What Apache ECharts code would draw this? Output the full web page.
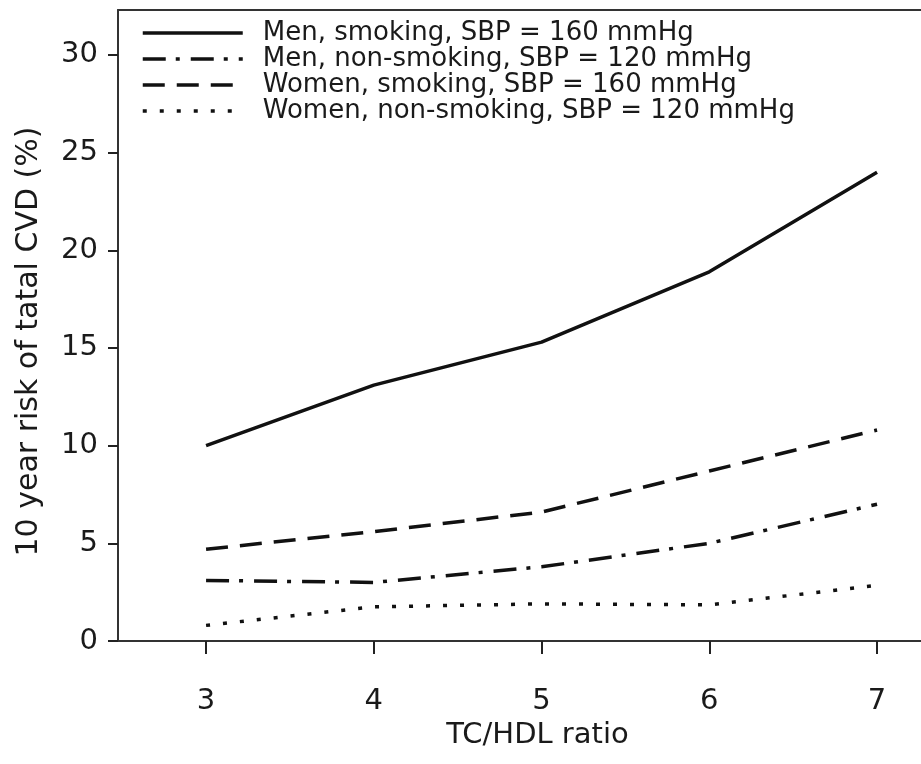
<!DOCTYPE html>
<html>
<head>
<meta charset="utf-8">
<title>10 year risk of tatal CVD</title>
<script src="https://cdn.jsdelivr.net/npm/echarts@6/dist/echarts.min.js"></script>
<style>
  html, body { margin: 0; padding: 0; background: #fff; }
  #main { width: 921px; height: 764px; }
</style>
</head>
<body>
<div id="main"></div>
<script>
// TC/HDL ratio on x, risk % on y
var ratios = [3, 4, 5, 6, 7];
var yTicks = [0, 5, 10, 15, 20, 25, 30];

var menSmoking      = [10.0, 13.1, 15.3, 18.9, 24.0];
var menNonSmoking   = [3.1, 3.0, 3.8, 5.0, 7.0];
var womenSmoking    = [4.7, 5.6, 6.6, 8.7, 10.8];
var womenNonSmoking = [0.8, 1.75, 1.9, 1.85, 2.85];

var seriesNames = [
	'Men, smoking, SBP = 160 mmHg',
	'Men, non-smoking, SBP = 120 mmHg',
	'Women, smoking, SBP = 160 mmHg',
	'Women, non-smoking, SBP = 120 mmHg'
];

function pairs(arr){
	return ratios.map(function(x, i){ return [x, arr[i]]; });
}

var font = 'DejaVu Sans';
var ink = '#111';

function lineSeries(name, arr, dash){
	return {
		name: name,
		type: 'line',
		symbol: 'none',
		color: ink,
		data: pairs(arr),
		lineStyle: { color: ink, width: 3.5, type: dash },
		emphasis: { disabled: true }
	};
}

var chart = echarts.init(document.getElementById('main'));
var option = {
	animation: false,
	backgroundColor: '#fff',
	grid: { left: 118, right: 0, top: 10, bottom: 123 },
	legend: {
		orient: 'vertical',
		left: 136,
		top: 15,
		itemWidth: 100,
		itemHeight: 14,
		itemGap: 0,
		selectedMode: false,
		data: seriesNames,
		itemStyle: { opacity: 0 },
		lineStyle: { width: 3.5 },
		textStyle: {
			fontFamily: font,
			fontSize: 26,
			color: '#1a1a1a',
			lineHeight: 25,
			padding: [0, 0, 0, 15]
		}
	},
	xAxis: [
		{
			type: 'value',
			min: 2.475,
			max: 7.262,
			name: 'TC/HDL ratio',
			nameLocation: 'middle',
			nameGap: 70,
			nameTextStyle: { fontFamily: font, fontSize: 29, color: '#1a1a1a', padding: [0, 0, 0, 36] },
			splitLine: { show: false },
			axisLine: { lineStyle: { color: '#333', width: 2 } },
			axisTick: { length: 13, customValues: ratios, lineStyle: { color: '#222', width: 2 } },
			axisLabel: { margin: 46, customValues: ratios, fontFamily: font, fontSize: 29, color: '#1a1a1a' }
		},
		{
			type: 'value',
			position: 'top',
			min: 2.475,
			max: 7.262,
			splitLine: { show: false },
			axisLine: { show: true, lineStyle: { color: '#333', width: 2 } },
			axisTick: { show: false },
			axisLabel: { show: false }
		}
	],
	yAxis: {
		type: 'value',
		min: 0,
		max: 32.3,
		name: '10 year risk of tatal CVD (%)',
		nameLocation: 'middle',
		nameGap: 74,
		nameTextStyle: { fontFamily: font, fontSize: 30, color: '#1a1a1a', padding: [0, 32, 0, 0] },
		splitLine: { show: false },
		axisLine: { show: true, lineStyle: { color: '#333', width: 2 } },
		axisTick: { show: true, length: 10, customValues: yTicks, lineStyle: { color: '#222', width: 2 } },
		axisLabel: { margin: 20, customValues: yTicks, fontFamily: font, fontSize: 29, color: '#1a1a1a' }
	},
	series: [
		lineSeries(seriesNames[0], menSmoking, 'solid'),
		lineSeries(seriesNames[1], menNonSmoking, [23, 10, 4, 11]),
		lineSeries(seriesNames[2], womenSmoking, [22, 12]),
		lineSeries(seriesNames[3], womenNonSmoking, [4, 13])
	]
};
chart.setOption(option);
</script>
</body>
</html>
